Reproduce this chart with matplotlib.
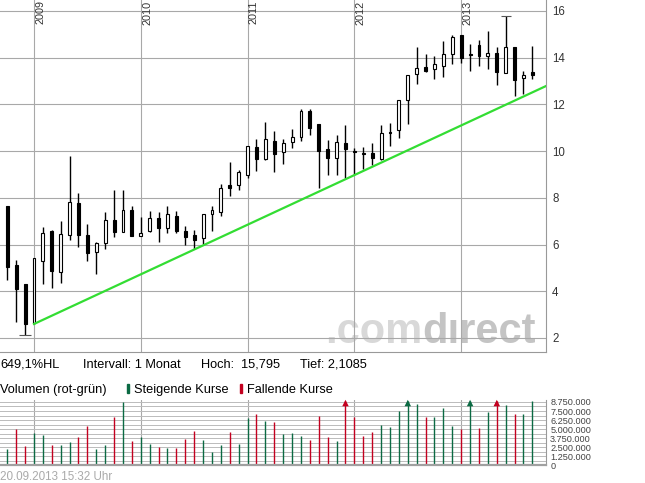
import numpy as np
import matplotlib
matplotlib.use("Agg")
import matplotlib.pyplot as plt
from matplotlib.patches import Rectangle

plt.rcParams['font.family'] = ['Liberation Sans', 'DejaVu Sans']

# monthly candles, index 0 = Oct 2008 ... index 59 = Sep 2013
opens = [7.64, 5.14, 4.29, 2.63, 5.29, 6.57, 4.81, 6.41, 7.80, 6.41,
         5.69, 6.06, 7.07, 6.54, 7.46, 6.37, 6.57, 7.13, 6.71, 7.21,
         6.60, 6.40, 6.26, 7.29, 7.40, 8.54, 8.53, 8.97, 10.19, 9.67,
         10.45, 9.97, 10.39, 10.60, 11.70, 11.17, 10.10, 9.71, 10.33, 10.00,
         9.90, 9.90, 9.66, 10.78, 10.90, 12.17, 13.31, 13.61, 13.50, 13.64,
         14.17, 14.96, 14.17, 14.53, 14.07, 14.19, 13.36, 14.47, 13.13, 13.39]
highs = [7.66, 5.33, 4.31, 5.41, 6.77, 6.64, 6.99, 9.79, 8.19, 6.90,
         6.10, 7.39, 8.33, 8.33, 7.67, 7.19, 7.43, 7.41, 7.67, 7.43,
         6.79, 6.61, 7.29, 7.63, 8.59, 9.54, 9.19, 10.20, 10.54, 11.24,
         10.88, 10.50, 10.93, 11.79, 11.81, 11.17, 10.46, 10.67, 11.13, 10.14,
         10.19, 10.33, 11.10, 11.19, 12.17, 13.26, 14.47, 14.14, 14.07, 14.73,
         14.96, 14.96, 14.59, 14.74, 15.13, 14.47, 15.795, 14.47, 13.41, 14.49]
lows = [4.47, 2.67, 2.1085, 2.60, 4.29, 4.14, 4.36, 6.19, 5.89, 5.29,
        4.74, 5.83, 6.31, 6.53, 6.38, 6.37, 6.54, 6.11, 6.50, 6.51,
        5.96, 5.81, 6.01, 6.59, 7.23, 8.07, 8.33, 8.84, 9.17, 9.61,
        9.12, 9.47, 10.13, 10.43, 10.71, 8.43, 8.96, 8.96, 8.86, 8.97,
        9.24, 9.39, 9.64, 10.21, 10.57, 11.17, 12.86, 13.39, 13.07, 13.17,
        13.71, 13.79, 13.41, 13.64, 13.50, 12.81, 13.36, 12.36, 12.43, 13.07]
closes = [5.04, 4.10, 2.60, 5.41, 6.51, 4.86, 6.47, 7.83, 6.40, 5.64,
          6.07, 7.03, 6.53, 7.50, 6.38, 6.51, 7.13, 6.69, 7.29, 6.57,
          6.33, 6.21, 7.29, 7.46, 8.44, 8.43, 9.11, 10.20, 9.67, 10.54,
          9.88, 10.36, 10.61, 11.70, 10.99, 10.00, 9.70, 10.39, 10.07, 9.96,
          9.87, 9.70, 10.79, 10.76, 12.17, 13.26, 13.57, 13.41, 13.71, 14.14,
          14.87, 13.97, 14.11, 14.07, 14.19, 13.39, 14.47, 13.04, 13.27, 13.26]

# volume in millions, 1 = rising (green), 0 = falling (red)
volume_mio = [2.30, 4.97, 2.67, 4.47, 4.19, 2.81, 2.81, 3.22, 3.87, 5.43,
              2.26, 2.81, 6.68, 8.75, 3.36, 3.91, 2.95, 2.53, 2.44, 2.44,
              3.68, 4.79, 3.55, 1.84, 2.81, 4.61, 2.95, 6.59, 7.09, 6.17,
              5.99, 4.33, 4.47, 4.05, 3.55, 6.82, 3.87, 3.41, 9.60, 6.72,
              4.05, 4.61, 5.57, 5.30, 7.51, 10.20, 8.47, 6.68, 6.68, 7.92,
              5.43, 4.97, 9.40, 5.16, 7.41, 9.90, 8.34, 7.09, 7.09, 8.95]
vol_rising = [1, 0, 0, 1, 1, 0, 1, 1, 0, 0,
              1, 1, 0, 1, 0, 1, 1, 0, 1, 0,
              0, 0, 1, 1, 1, 0, 1, 1, 0, 1,
              0, 1, 1, 1, 0, 0, 0, 1, 0, 0,
              0, 0, 1, 1, 1, 1, 1, 0, 1, 1,
              1, 0, 1, 0, 1, 0, 1, 0, 1, 1]

year_labels = ['2009', '2010', '2011', '2012', '2013']
year_index = [3, 15, 27, 39, 51]

trend_x = [3, 61]
trend_y = [2.60, 12.87]

price_ticks = [2, 4, 6, 8, 10, 12, 14, 16]
vol_label_ticks = [0, 1.25e6, 2.5e6, 3.75e6, 5e6, 6.25e6, 7.5e6, 8.75e6]
vol_grid_ticks = [0.625e6, 1.875e6, 3.125e6, 4.375e6, 5.625e6, 6.875e6, 8.125e6]

W, H = 645, 483


def fx(px):
    return px / W


def fy(py):
    return 1 - py / H


fig = plt.figure(figsize=(W / 100, H / 100), dpi=100)

# ---------------- price panel ----------------
ax = fig.add_axes([0, fy(352), fx(546), 352 / H])
x = np.arange(len(opens))
o = np.array(opens)
c = np.array(closes)
ax.set_xlim(-0.82, 60.53)
ax.set_ylim(1.40, 16.47)

ax.set_yticks(price_ticks)
ax.set_xticks(year_index)
ax.grid(True, color='#a8a8a8', lw=0.8)
ax.set_axisbelow(True)
ax.yaxis.tick_right()
ax.tick_params(axis='y', length=0, pad=4.5, labelsize=8.3, labelcolor='#333333')
ax.tick_params(axis='x', length=0, labelbottom=False)
for s in ['left', 'top']:
    ax.spines[s].set_visible(False)
for s in ['right', 'bottom']:
    ax.spines[s].set_color('#999999')

# year labels, rotated, hanging from the top edge
for lbl, xi in zip(year_labels, year_index):
    ax.text(xi + 0.15, 16.45, lbl, rotation=90, ha='left', va='top',
            fontsize=7.8, color='#333333')

# watermark
wm = ax.text(0.9817, 0.0256, 'dırect', transform=ax.transAxes, ha='right',
             va='baseline', fontsize=30, fontweight='bold', color='#c4c4c4', zorder=0.4)
ax.annotate('.com', xy=(0, 0), xycoords=wm, ha='right', va='bottom',
            fontsize=30, fontweight='bold', color='#d8d8d8', zorder=0.4)

# candles
ax.vlines(x, lows, highs, color='black', lw=1, zorder=2)
up = c >= o
ax.bar(x, np.maximum(np.abs(c - o), 0.04), bottom=np.minimum(o, c), width=0.32,
       color=np.where(up, 'white', 'black'), edgecolor='black', lw=0.8, zorder=3)

# high / low markers
i_h = int(np.argmax(highs))
i_l = int(np.argmin(lows))
ax.hlines(highs[i_h], i_h - 0.55, i_h + 0.55, color='#555555', lw=0.8, zorder=3)
ax.hlines(lows[i_l], i_l - 0.65, i_l + 0.65, color='#555555', lw=0.8, zorder=3)

# trend line
ax.plot(trend_x, trend_y, color='#33dd33', lw=1.6, zorder=4)

# ---------------- info lines ----------------
hoch = max(highs)
tief = min(lows)
hl_pct = (hoch - tief) / tief * 100
fs = 9.2
fig.text(fx(0), fy(367.7), f"{hl_pct:.1f}%HL".replace('.', ','), fontsize=fs, va='baseline')
fig.text(fx(83), fy(367.7), "Intervall: 1 Monat", fontsize=fs, va='baseline')
fig.text(fx(201.3), fy(367.7), "Hoch:", fontsize=fs, va='baseline')
fig.text(fx(241), fy(367.7), f"{hoch:.3f}".replace('.', ','), fontsize=fs, va='baseline')
fig.text(fx(300), fy(367.7), "Tief: " + f"{tief:.4f}".replace('.', ','), fontsize=fs, va='baseline')

green = '#0b6a43'
red = '#c3001f'
fig.text(fx(0), fy(393.3), "Volumen (rot-grün)", fontsize=fs, va='baseline')
fig.add_artist(Rectangle((fx(127), fy(393.3)), fx(2.2), 9 / H,
                         transform=fig.transFigure, color=green))
fig.text(fx(134), fy(393.3), "Steigende Kurse", fontsize=fs, va='baseline')
fig.add_artist(Rectangle((fx(240), fy(393.3)), fx(2.2), 9 / H,
                         transform=fig.transFigure, color=red))
fig.text(fx(247.3), fy(393.3), "Fallende Kurse", fontsize=fs, va='baseline')

fig.text(fx(0), fy(480), "20.09.2013 15:32 Uhr", fontsize=8.4, color='#aaaaaa', va='baseline')

# ---------------- volume panel ----------------
axv = fig.add_axes([0, fy(465.3), fx(546), (465.3 - 400) / H])
vtop = 9.02e6
axv.set_xlim(-0.82, 60.53)
axv.set_ylim(0, vtop)
vol = np.array(volume_mio) * 1e6
vcol = [green if r else red for r in vol_rising]

axv.set_yticks(vol_label_ticks)
axv.set_yticks(vol_grid_ticks, minor=True)
axv.set_yticklabels([f"{v:,.0f}".replace(',', '.') for v in vol_label_ticks])
axv.set_xticks(year_index)
axv.grid(True, which='both', axis='y', color='#bbbbbb', lw=0.7)
axv.grid(True, which='major', axis='x', color='#a8a8a8', lw=0.8)
axv.set_axisbelow(True)
axv.yaxis.tick_right()
axv.tick_params(axis='y', which='both', length=0, pad=3, labelsize=6.6, labelcolor='#444444')
axv.tick_params(axis='x', length=0, labelbottom=False)
for s in ['left', 'top']:
    axv.spines[s].set_visible(False)
axv.spines['right'].set_color('#999999')
axv.spines['bottom'].set_color('#a0a0a0')
axv.spines['bottom'].set_linewidth(1.6)

axv.vlines(x, 0, np.minimum(vol, 8.9e6), colors=vcol, lw=1, zorder=2)
over = vol > vtop
axv.scatter(x[over], np.full(over.sum(), 8.6e6), marker='^', s=22,
            c=[vcol[i] for i in np.where(over)[0]], zorder=3, clip_on=False, linewidths=0)

fig.savefig('out.png', dpi=100)
